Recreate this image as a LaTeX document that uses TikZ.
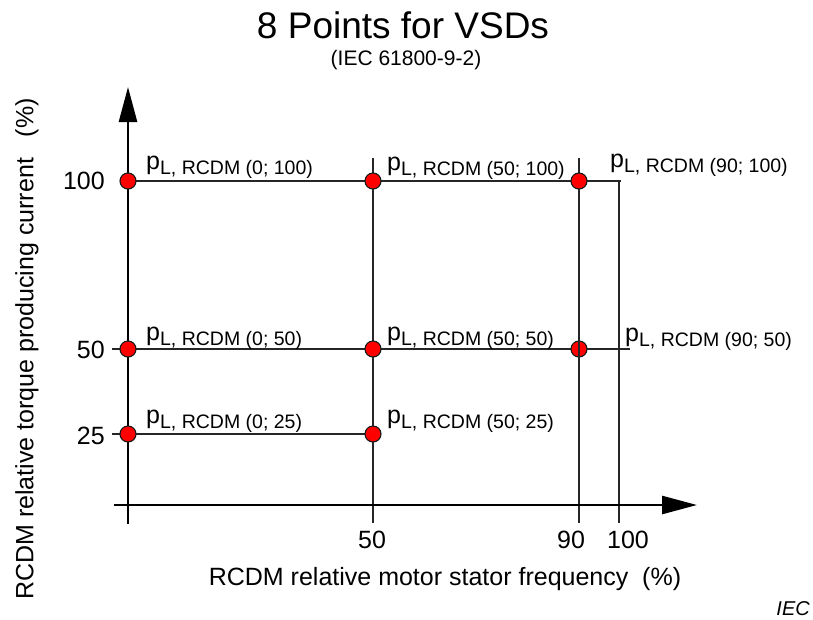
\documentclass[tikz,border=0pt]{standalone}
\usepackage{fontspec}
\setmainfont{Liberation Sans}
\usetikzlibrary{arrows.meta}
\newcommand{\plab}[1]{{\fontsize{25}{25}\selectfont p}{\fontsize{19.5}{19.5}\selectfont\raisebox{-5.5pt}{L, RCDM (#1)}}}
\begin{document}
\begin{tikzpicture}[x=1pt,y=-1pt,
  gridline/.style={line width=1.3pt, draw=black!85},
  axisline/.style={line width=2.6pt, -{Triangle[length=35pt,width=18pt]}},
  dot/.style={circle, fill=red, draw=black!90, line width=1.1pt, minimum size=16pt, inner sep=0pt},
  plabel/.style={anchor=base west, inner sep=0pt},
  ticklab/.style={font=\fontsize{25}{25}\selectfont, inner sep=0pt}]
\useasboundingbox (0,0) rectangle (813,619);

% title
\node[inner sep=0pt, font=\fontsize{37}{37}\selectfont] (title) at (403,25) {8 Points for VSDs};
\node[inner sep=0pt, font=\fontsize{21}{21}\selectfont] (subtitle) at (406,60) {(IEC 61800-9-2)};

% coordinates
\coordinate (xa0) at (114,505);
\coordinate (xa1) at (697,505);
\coordinate (ya0) at (128,524);
\coordinate (ya1) at (128,87);

% grid lines
\coordinate (v50t) at (373,158);
\coordinate (v50b) at (373,523);
\coordinate (v90t) at (579,158);
\coordinate (v90b) at (579,523);
\coordinate (v100t) at (619,181);
\coordinate (v100b) at (619,523);
\coordinate (h100l) at (128,181);
\coordinate (h100r) at (621,181);
\coordinate (h50l) at (112,349);
\coordinate (h50r) at (630,349);
\coordinate (h25l) at (112,434);
\coordinate (h25r) at (373,434);
\draw[gridline] (v50t) -- (v50b);
\draw[gridline] (v90t) -- (v90b);
\draw[gridline] (v100t) -- (v100b);
\draw[gridline] (h100l) -- (h100r);
\draw[gridline] (h50l) -- (h50r);
\draw[gridline] (h25l) -- (h25r);

% axes
\draw[axisline] (xa0) -- (xa1);
\draw[axisline] (ya0) -- (ya1);

% points
\node[dot] (p0a) at (128,181) {};
\node[dot] (p50a) at (373,181) {};
\node[dot] (p90a) at (579,181) {};
\node[dot] (p0b) at (128,349) {};
\node[dot] (p50b) at (373,349) {};
\node[dot] (p90b) at (579,349) {};
\node[dot] (p0c) at (128,434) {};
\node[dot] (p50c) at (373,434) {};
\draw[gridline] (p90b.north) -- (p90b.south);

% point labels
\node[plabel] (l0a) at (146,169) {\plab{0; 100}};
\node[plabel] (l50a) at (387,170) {\plab{50; 100}};
\node[plabel] (l90a) at (610,167) {\plab{90; 100}};
\node[plabel] (l0b) at (146,340) {\plab{0; 50}};
\node[plabel] (l50b) at (387,340) {\plab{50; 50}};
\node[plabel] (l90b) at (625,341) {\plab{90; 50}};
\node[plabel] (l0c) at (146,423) {\plab{0; 25}};
\node[plabel] (l50c) at (387,423) {\plab{50; 25}};

% tick labels
\node[ticklab, anchor=east] (y100) at (105,181) {100};
\node[ticklab, anchor=east] (y50) at (105,350) {50};
\node[ticklab, anchor=east] (y25) at (105,436) {25};
\node[ticklab] (x50) at (372,540) {50};
\node[ticklab] (x90) at (571,540) {90};
\node[ticklab] (x100) at (628,540) {100};

% axis titles
\node[inner sep=0pt, font=\fontsize{25}{25}\selectfont] (xtitle) at (445,579) {RCDM relative motor stator frequency\ \ (\%)};
\node[inner sep=0pt, font=\fontsize{25}{25}\selectfont, rotate=90] (ytitle) at (27,349) {RCDM relative torque producing current\ \ \ (\%)};

\node[inner sep=0pt, anchor=base east, font=\fontsize{20}{20}\selectfont\itshape] (iec) at (810,615) {IEC};
\end{tikzpicture}
\end{document}
